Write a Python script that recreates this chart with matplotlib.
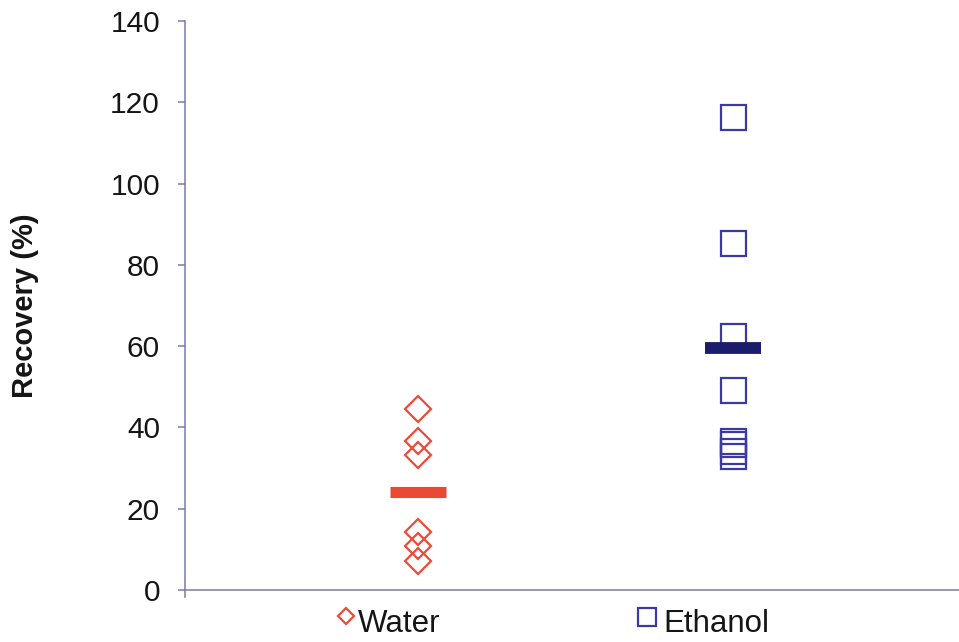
import matplotlib
matplotlib.use("Agg")
import matplotlib.pyplot as plt

plt.rcParams['font.family'] = ['Liberation Sans', 'DejaVu Sans']

# data
groups = ['Water', 'Ethanol']
water = [44.6, 36.6, 33.2, 14.2, 10.8, 7.2]
ethanol = [116.5, 85.3, 62.5, 49.2, 36.6, 35.8, 34.2, 32.9]
means = [24.2, 59.6]
yticks = [0, 20, 40, 60, 80, 100, 120, 140]

red = '#ee4a38'
red_bar = '#e84a36'
blue = '#3a3aa0'
blue_bar = '#1c1c6c'
axcol = '#7a7aa8'
txt = '#151515'

fig = plt.figure(figsize=(9.59, 6.42), dpi=100)
ax = fig.add_axes([185/959, 52/642, 774/959, 569/642])

ax.plot([1]*len(water), water, ls='none', marker='D', ms=13, mfc='none',
        mec=red, mew=1.6, clip_on=False)
ax.plot([2]*len(ethanol), ethanol, ls='none', marker='s', ms=18, mfc='none',
        mec=blue, mew=1.6, clip_on=False)

# mean bars
ax.hlines(means[0], 1 - 0.09, 1 + 0.09, colors=red_bar, lw=8, zorder=3)
ax.hlines(means[1], 2 - 0.09, 2 + 0.09, colors=blue_bar, lw=8.5, zorder=3)

ax.set_xlim(0.2603, 2.717)
ax.set_ylim(0, 140)
ax.set_yticks(yticks)
ax.set_xticks([])
ax.tick_params(axis='y', length=5, width=1.1, color=axcol, pad=13,
               labelsize=21.5, labelcolor=txt)

for s in ['top', 'right']:
    ax.spines[s].set_visible(False)
ax.spines['left'].set_color(axcol)
ax.spines['bottom'].set_color(axcol)
ax.spines['left'].set_linewidth(1.1)
ax.spines['bottom'].set_linewidth(1.1)
ax.spines['left'].set_bounds(-1.6, 140)

ax.set_ylabel('Recovery (%)', fontsize=21, fontweight='bold', color=txt)
ax.yaxis.set_label_coords(-0.188, 0.5)

# category labels with marker glyphs
tr = ax.get_xaxis_transform()
ax.plot([0.771], [-0.0457], marker='D', ms=8.5, mfc='none', mec=red, mew=1.6,
        transform=tr, clip_on=False)
ax.plot([1.727], [-0.0475], marker='s', ms=13, mfc='none', mec=blue, mew=1.6,
        transform=tr, clip_on=False)
ax.text(0.8095, -0.0738, groups[0], transform=tr, ha='left', va='baseline',
        fontsize=22.5, color=txt)
ax.text(1.778, -0.0738, groups[1], transform=tr, ha='left', va='baseline',
        fontsize=22.5, color=txt)

fig.savefig('out.png', dpi=100)
